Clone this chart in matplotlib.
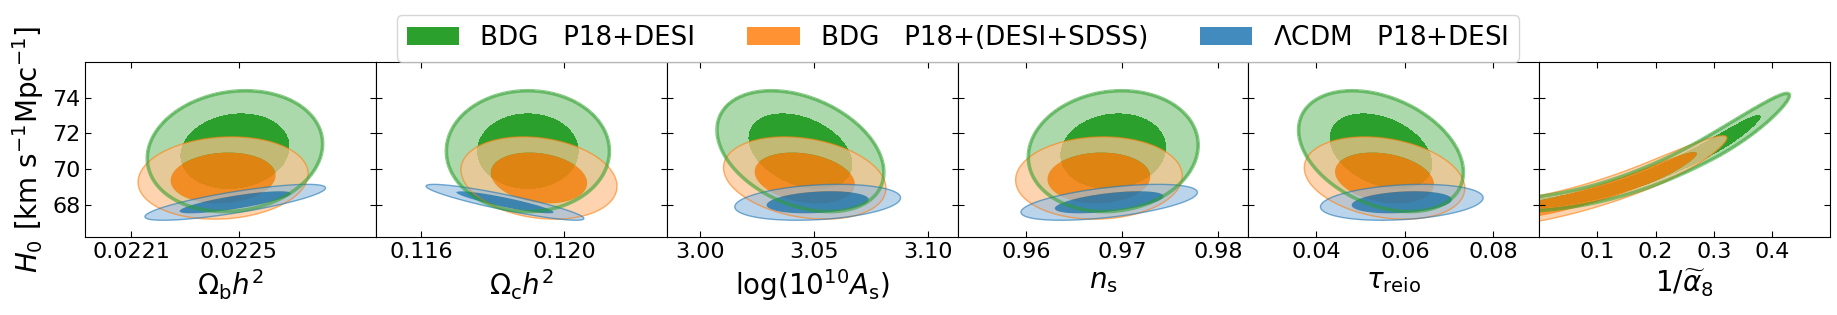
import matplotlib
matplotlib.use("Agg")
import matplotlib.pyplot as plt
import numpy as np
from matplotlib.patches import Patch

# panels: x labels, limits, ticks
xlabels = [r"$\Omega_{\rm b} h^2$", r"$\Omega_{\rm c} h^2$", r"$\log(10^{10} A_{\rm s})$",
           r"$n_{\rm s}$", r"$\tau_{\rm reio}$", r"$1/\widetilde{\alpha}_8$"]
xlo = [0.02193, 0.11474, 2.9852, 0.95286, 0.02467, 0.0]
xhi = [0.02301, 0.12286, 3.1132, 0.98312, 0.09033, 0.5]
xticks = [[0.0221, 0.0225], [0.116, 0.120], [3.00, 3.05, 3.10],
          [0.96, 0.97, 0.98], [0.04, 0.06, 0.08], [0.1, 0.2, 0.3, 0.4]]
xticklabels = [["0.0221", "0.0225"], ["0.116", "0.120"], ["3.00", "3.05", "3.10"],
               ["0.96", "0.97", "0.98"], ["0.04", "0.06", "0.08"], ["0.1", "0.2", "0.3", "0.4"]]
yticks = [68, 70, 72, 74]
ylim = (66.2, 76.0)

# 2D posteriors (panels 1-5): mean/sigma of parameter, correlation with H0
green_mx = [0.022486, 0.11898, 3.0440, 0.96905, 0.0546]
green_sx = [0.000133, 0.00093, 0.0150, 0.00361, 0.0076]
green_rho = [0.12, 0.0, -0.35, 0.1, -0.35]
green_h0, green_sh0 = 71.0, 1.38

orange_mx = [0.022442, 0.11929, 3.0459, 0.96756, 0.0554]
orange_sx = [0.000129, 0.00089, 0.0146, 0.00354, 0.0074]
orange_rho = [0.1, -0.2, -0.25, 0.05, -0.25]
orange_h0, orange_sh0 = 69.5, 0.94

blue_mx = [0.022487, 0.11834, 3.0516, 0.96863, 0.0593]
blue_sx = [0.000137, 0.00090, 0.0149, 0.00375, 0.0075]
blue_rho = [0.8, -0.9, 0.25, 0.55, 0.25]
blue_h0, blue_sh0 = 68.14, 0.41

# panel 6 (1/alpha8): ridge H0 = y0 + a*x + c*x^2, width sv0 + sv1*x, flat until x0 then falls with sx
green_ban = dict(y0=68.07, a=3.3, c=25.0, sv0=0.16, sv1=0.45, x0=0.299, sx=0.0536)
orange_ban = dict(y0=67.8, a=6.5, c=17.7, sv0=0.29, sv1=0.10, x0=0.188, sx=0.055)

labels = ["BDG   P18+DESI", "BDG   P18+(DESI+SDSS)", r"$\Lambda$CDM   P18+DESI"]

L95 = np.exp(-0.5 * (-2 * np.log(0.05)))
L68 = np.exp(-0.5 * (-2 * np.log(0.32)))

green_fill = [(171/255, 217/255, 171/255, 1.0), (44/255, 160/255, 44/255, 1.0)]
orange_fill = [(253/255, 196/255, 145/255, 0.72), (255/255, 127/255, 14/255, 0.85)]
blue_fill = [(150/255, 190/255, 225/255, 0.65), (31/255, 119/255, 180/255, 0.85)]


def gauss(X, Y, mx, sx, my, sy, rho):
    u = (X - mx) / sx
    v = (Y - my) / sy
    return np.exp(-0.5 * (u * u - 2 * rho * u * v + v * v) / (1 - rho ** 2))


def banana(X, Y, y0, a, c, sv0, sv1, x0, sx):
    v = (Y - (y0 + a * X + c * X ** 2)) / (sv0 + sv1 * X)
    u = np.clip(X - x0, 0, None) / sx
    return np.exp(-0.5 * (u * u + v * v))


def draw(ax, X, Y, Z, fill, edge, lw, ealpha):
    ax.contourf(X, Y, Z, levels=[L95, L68, 2.0], colors=fill, antialiased=True)
    ax.contour(X, Y, Z, levels=[L95], colors=[edge], linewidths=lw, alpha=ealpha)


plt.rcParams["mathtext.fontset"] = "dejavusans"
fig, axes = plt.subplots(1, 6, figsize=(18.37, 3.15), dpi=100, sharey=True)
plt.subplots_adjust(left=0.0464, right=0.9962, top=0.804, bottom=0.2476, wspace=0)

for i, ax in enumerate(axes):
    xs = np.linspace(xlo[i], xhi[i], 500)
    ys = np.linspace(ylim[0], ylim[1], 500)
    X, Y = np.meshgrid(xs, ys)
    if i < 5:
        Zg = gauss(X, Y, green_mx[i], green_sx[i], green_h0, green_sh0, green_rho[i])
        Zo = gauss(X, Y, orange_mx[i], orange_sx[i], orange_h0, orange_sh0, orange_rho[i])
        Zb = gauss(X, Y, blue_mx[i], blue_sx[i], blue_h0, blue_sh0, blue_rho[i])
    else:
        Zg = banana(X, Y, **green_ban)
        Zo = banana(X, Y, **orange_ban)
        Zb = None
    ax.contourf(X, Y, Zg, levels=[L95, L68, 2.0], colors=green_fill)
    draw(ax, X, Y, Zo, orange_fill, "#ff7f0e", 1.0, 0.6)
    if Zb is not None:
        draw(ax, X, Y, Zb, blue_fill, "#1f77b4", 1.0, 0.6)
    ax.contour(X, Y, Zg, levels=[L95], colors=["#2ca02c"], linewidths=2.6, alpha=0.55)

    ax.set_xlim(xlo[i], xhi[i])
    ax.set_ylim(*ylim)
    ax.set_xticks(xticks[i])
    ax.set_xticklabels(xticklabels[i])
    ax.set_xlabel(xlabels[i], fontsize=20)
    ax.tick_params(direction="in", top=True, right=True, labelsize=16, length=4)

axes[0].set_yticks(yticks)
axes[0].set_ylabel(r"$H_0\ [\mathrm{km\ s^{-1}Mpc^{-1}}]$", fontsize=20)

handles = [Patch(facecolor=green_fill[1]), Patch(facecolor=orange_fill[1]),
           Patch(facecolor=blue_fill[1])]
cx = (0.0464 + 0.9962) / 2
fig.legend(handles, labels, loc="upper center", bbox_to_anchor=(cx, 0.995), ncol=3,
           fontsize=18.8)

fig.savefig("out.png", dpi=100)
